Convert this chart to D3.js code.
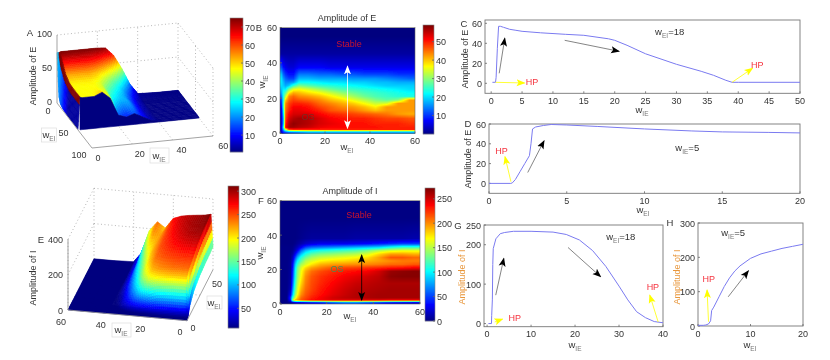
<!DOCTYPE html>
<html>
<head>
<meta charset="utf-8">
<script src="https://cdn.jsdelivr.net/npm/d3@7"></script>
<style>
html, body { margin: 0; background: #fff; }
text { font-family: "Liberation Sans", Arial, sans-serif; font-size: 9px; fill: #333; }
.tick-line { stroke: #666; stroke-width: 0.8; fill: none; }
.grid3d { stroke: #999; stroke-width: 0.7; stroke-dasharray: 1 2.5; fill: none; }
.axis3d { stroke: #999; stroke-width: 0.9; fill: none; }
.lab-box { fill: #fff; stroke: #ddd; stroke-width: 0.7; }
</style>
</head>
<body>
<div id="chart"></div>
<script>
// surface A: amplitude of E, rows are wEI, columns are wIE
var surfIE = [0, 1, 2, 4, 8, 12, 16, 20, 24, 28, 32, 36, 40, 50, 60];
var surfAEI = [0, 3, 6, 10, 15, 20, 30, 40, 50, 60];
var surfAZ = [
  [74, 74, 75, 75, 75, 75, 75, 75, 74, 62, 42, 18, 2, 1, 1],
  [40, 74, 74, 74, 74, 74, 74, 73, 68, 55, 35, 14, 2, 1, 1],
  [12, 72, 72, 72, 72, 72, 71, 68, 60, 47, 29, 12, 2, 1, 1],
  [5, 67, 67, 67, 67, 67, 65, 60, 50, 38, 23, 10, 2, 1, 1],
  [3, 60, 60, 60, 60, 60, 57, 50, 41, 31, 19, 8, 1, 1, 1],
  [2, 54, 54, 54, 54, 54, 51, 44, 35, 26, 16, 6, 1, 1, 1],
  [1, 49, 48, 48, 48, 48, 45, 36, 28, 22, 13, 5, 1, 1, 1],
  [1, 48, 47, 47, 47, 47, 44, 30, 24, 22, 12, 4, 1, 1, 1],
  [1, 48, 47, 47, 47, 48, 44, 24, 18, 20, 11, 4, 1, 1, 1],
  [1, 48, 47, 47, 47, 52, 42, 16, 12, 16, 10, 4, 1, 1, 1]
];

// surface E: amplitude of I
var surfEEI = [0, 1, 2, 3, 4, 6, 10, 15, 20, 30, 40, 50, 60];
var surfEZ = [
  [0, 1, 1, 1, 1, 1, 1, 1, 1, 1, 1, 1, 1, 1, 1],
  [5, 10, 10, 10, 10, 10, 10, 8, 5, 3, 2, 1, 1, 1, 1],
  [10, 40, 40, 40, 40, 40, 38, 30, 20, 10, 5, 2, 1, 1, 1],
  [20, 100, 100, 100, 100, 98, 95, 80, 50, 25, 10, 3, 1, 1, 1],
  [30, 170, 170, 170, 170, 165, 160, 140, 90, 45, 18, 5, 1, 1, 1],
  [50, 215, 215, 215, 215, 212, 205, 190, 130, 70, 30, 8, 1, 1, 1],
  [70, 240, 240, 240, 240, 235, 230, 215, 170, 100, 50, 14, 2, 1, 1],
  [90, 250, 250, 250, 250, 245, 240, 230, 190, 125, 65, 20, 2, 1, 1],
  [100, 260, 260, 260, 258, 255, 250, 240, 205, 140, 80, 28, 2, 1, 1],
  [115, 285, 285, 285, 280, 272, 262, 250, 220, 170, 105, 40, 2, 1, 1],
  [120, 300, 300, 300, 295, 285, 272, 255, 225, 200, 130, 45, 3, 1, 1],
  [125, 306, 306, 304, 300, 292, 280, 260, 225, 230, 165, 50, 3, 1, 1],
  [130, 313, 310, 305, 300, 295, 287, 270, 212, 243, 190, 60, 5, 1, 1]
];

// heat map B: cell edges and values, first row at wIE = 0
var heatBX = [0, 1, 2, 3, 5, 7, 10, 15, 20, 25, 30, 35, 40, 45, 50, 55, 60];
var heatBY = [0, 1.5, 3, 4, 7, 10, 12, 14, 16, 18, 20, 22, 24, 26, 28, 30, 32, 35, 40, 50, 60];
var heatBZ = [
  [5, 10, 12, 14, 15, 16, 18, 18, 18, 18, 18, 18, 18, 18, 18, 18],
  [5, 18, 35, 48, 50, 50, 50, 50, 50, 50, 50, 50, 50, 50, 50, 50],
  [5, 22, 52, 57, 57, 56, 55, 53, 52, 52, 51, 51, 51, 50, 50, 50],
  [4, 18, 50, 56, 58, 57, 56, 54, 53, 52, 51, 51, 50, 50, 50, 49],
  [4, 18, 48, 54, 56, 57, 56, 54, 52, 51, 50, 50, 49, 48, 48, 47],
  [5, 20, 47, 52, 54, 54, 54, 52, 50, 49, 48, 47, 46, 45, 43, 42],
  [5, 22, 46, 50, 53, 53, 52, 50, 47, 46, 45, 43, 41, 43, 43, 43],
  [6, 25, 45, 49, 52, 52, 51, 48, 46, 44, 43, 41, 38, 43, 43, 43],
  [8, 25, 44, 48, 50, 50, 49, 46, 44, 42, 40, 37, 34, 35, 43, 43],
  [10, 24, 40, 46, 48, 47, 46, 44, 41, 39, 36, 33, 30, 28, 30, 43],
  [14, 24, 34, 44, 46, 44, 43, 41, 38, 35, 32, 29, 27, 26, 25, 24],
  [17, 24, 28, 38, 42, 41, 39, 37, 34, 31, 29, 27, 26, 25, 24, 23],
  [19, 22, 22, 30, 36, 37, 35, 32, 29, 27, 26, 25, 24, 23, 22, 21],
  [21, 20, 18, 20, 26, 30, 28, 26, 25, 24, 23, 22, 21, 20, 20, 20],
  [22, 19, 16, 16, 17, 23, 23, 22, 21, 21, 20, 20, 19, 19, 18, 18],
  [22, 17, 14, 12, 12, 19, 19, 18, 18, 18, 17, 17, 17, 16, 15, 14],
  [20, 14, 11, 9, 9, 15, 15, 14, 14, 13, 13, 12, 12, 12, 11, 11],
  [13, 9, 7, 6, 6, 8, 8, 8, 7, 7, 7, 7, 7, 7, 7, 7],
  [3, 3, 3, 3, 3, 3, 3, 3, 3, 3, 3, 3, 3, 3, 3, 3],
  [1, 1, 1, 1, 1, 1, 1, 1, 1, 1, 1, 1, 1, 1, 1, 1]
];

// heat map F
var heatFX = [0, 2, 4, 5, 6, 7, 8, 10, 12, 15, 20, 25, 30, 35, 40, 45, 50, 55, 60];
var heatFY = [0, 1.5, 3, 4, 7, 10, 14, 18, 20, 22, 24, 26, 28, 30, 32, 34, 36, 40, 60];
var heatFZ = [
  [2, 2, 5, 10, 15, 20, 20, 25, 30, 35, 50, 60, 60, 50, 40, 30, 25, 20],
  [2, 2, 40, 150, 190, 200, 215, 225, 235, 240, 245, 245, 245, 245, 245, 240, 240, 240],
  [2, 2, 50, 120, 160, 185, 210, 220, 230, 240, 250, 255, 258, 260, 262, 262, 262, 262],
  [2, 2, 30, 90, 140, 170, 200, 215, 225, 235, 245, 252, 258, 260, 262, 262, 262, 262],
  [2, 2, 15, 75, 125, 160, 190, 210, 220, 232, 242, 250, 256, 258, 260, 262, 262, 262],
  [2, 2, 10, 60, 115, 150, 180, 205, 218, 228, 238, 246, 252, 255, 258, 260, 260, 260],
  [2, 2, 8, 50, 105, 140, 170, 200, 215, 225, 232, 240, 245, 250, 255, 268, 270, 270],
  [2, 2, 7, 45, 100, 135, 165, 192, 208, 218, 226, 232, 236, 240, 250, 265, 268, 270],
  [2, 2, 6, 40, 95, 130, 160, 180, 195, 205, 215, 220, 222, 225, 228, 232, 235, 240],
  [2, 2, 6, 35, 85, 115, 145, 160, 175, 190, 195, 198, 200, 202, 205, 210, 210, 215],
  [2, 2, 5, 25, 70, 100, 125, 150, 160, 172, 178, 180, 185, 190, 195, 200, 205, 205],
  [2, 2, 4, 18, 50, 80, 110, 130, 145, 155, 160, 165, 170, 178, 195, 215, 215, 210],
  [2, 2, 3, 10, 30, 55, 85, 110, 125, 135, 140, 145, 150, 160, 180, 195, 195, 190],
  [2, 2, 2, 5, 15, 30, 60, 85, 100, 110, 115, 120, 125, 135, 150, 160, 165, 165],
  [2, 2, 2, 3, 8, 15, 30, 50, 60, 65, 70, 75, 80, 85, 90, 105, 115, 115],
  [1, 1, 1, 1, 3, 7, 12, 20, 25, 30, 30, 30, 32, 35, 40, 45, 50, 50],
  [1, 1, 1, 1, 1, 2, 4, 6, 8, 8, 8, 8, 10, 10, 10, 10, 10, 12],
  [1, 1, 1, 1, 1, 1, 1, 1, 1, 1, 1, 1, 1, 1, 1, 1, 1, 1]
];

// line panels
var lineCX = [0.2, 0.7, 0.8, 1.0, 1.2, 1.5, 2, 3, 4, 5, 8, 12, 15, 19, 20, 22, 25, 30, 34, 36, 38, 39, 40, 50];
var lineCY = [1, 1, 6, 35, 57, 57, 56, 54, 53, 52, 50.5, 49, 48, 44.5, 43, 38, 29.5, 19, 12, 8, 3, 1, 1, 1];
var lineDX = [0, 1.4, 1.5, 1.7, 2, 2.3, 2.6, 2.7, 2.8, 3, 3.5, 4, 5, 7, 10, 13, 15, 18, 20];
var lineDY = [0, 0, 0.5, 4, 12, 20, 28, 40, 55, 57, 58.5, 59.5, 59, 57.5, 55, 53, 52, 51.5, 51];
var lineGX = [0.3, 1, 1.05, 1.2, 1.3, 1.4, 2, 3, 4, 6, 10, 15, 18, 21, 24, 27, 30, 32, 34, 36, 38, 40];
var lineGY = [0, 0, 20, 60, 150, 190, 215, 228, 231, 234, 234, 232, 226, 212, 185, 145, 95, 60, 30, 15, 5, 2];
var lineHX = [0, 1, 1.5, 2, 2.4, 2.6, 3, 4, 5, 6, 7, 8, 10, 12, 14, 16, 18, 20];
var lineHY = [2, 2, 3, 6, 15, 45, 55, 85, 115, 140, 160, 175, 197, 210, 218, 226, 232, 238];

// annotations, [x1, y1, x2, y2] in data units
var arrowsC = [[1.3, 10, 2.2, 45, "black"], [11.9, 43, 20.7, 32, "black"], [0.7, 1, 5.4, 0.3, "yellow"], [39, 1, 42.3, 15, "yellow"]];
var arrowsD = [[1.41, 1.7, 1.03, 27, "yellow"], [2.49, 11, 3.54, 43, "black"]];
var arrowsG = [[1.97, 72, 3.8, 165, "black"], [18.4, 193, 25.8, 119, "black"], [1.74, 4, 3.5, 11, "yellow"], [38.9, 4, 37, 72, "yellow"]];
var arrowsH = [[2, 12.6, 1.73, 104.5, "yellow"], [5.75, 85, 9.6, 160.7, "black"]];
var hpC = [[6.6, 2.3], [43.1, 19]];
var hpD = [[0.81, 33.7]];
var hpG = [[6.3, 17], [37.7, 95]];
var hpH = [[2.04, 141]];

var jetStops = [0, 0.125, 0.375, 0.625, 0.875, 1];
var jetColors = ["#00007f", "#0000ff", "#00ffff", "#ffff00", "#ff0000", "#7f0000"];
var jet = d3.scaleLinear().domain(jetStops).range(jetColors).clamp(true);

var svg = d3.select("#chart").append("svg")
    .attr("width", 830)
    .attr("height", 360);

var defs = svg.append("defs");
defs.append("filter").attr("id", "soft").attr("x", "-2%").attr("y", "-2%").attr("width", "104%").attr("height", "104%")
    .append("feGaussianBlur").attr("stdDeviation", 0.3);
defs.append("filter").attr("id", "surfblur").attr("x", "-5%").attr("y", "-5%").attr("width", "110%").attr("height", "110%")
    .append("feGaussianBlur").attr("stdDeviation", 0.5);

["black", "yellow", "white"].forEach(c => {
    defs.append("marker")
        .attr("id", "head-" + c)
        .attr("viewBox", "0 -4 9 8")
        .attr("refX", 8)
        .attr("markerUnits", "userSpaceOnUse")
        .attr("markerWidth", 9)
        .attr("markerHeight", 8)
        .attr("orient", "auto-start-reverse")
        .append("path")
        .attr("d", "M0,-3.5L9,0L0,3.5L2,0Z")
        .attr("fill", c);
});

var root = svg.append("g").attr("filter", "url(#soft)");

function subLabel(g, x, y, main, sub, rotate, color, after) {
    var t = g.append("text")
        .attr("x", x)
        .attr("y", y)
        .attr("text-anchor", "middle")
        .style("font-size", "9.5px");
    if (rotate) t.attr("transform", "rotate(-90," + x + "," + y + ")");
    if (color) t.style("fill", color);
    t.append("tspan").text(main);
    t.append("tspan").attr("dy", 3).style("font-size", "6.5px").style("fill", "#777").text(sub);
    if (after) t.append("tspan").attr("dy", -3).text(after);
    return t;
}

function plainText(g, x, y, s, size, color, anchor) {
    return g.append("text")
        .attr("x", x)
        .attr("y", y)
        .attr("text-anchor", anchor || "middle")
        .style("font-size", size + "px")
        .style("fill", color || "#333")
        .text(s);
}

function colorbar(x, y, w, h, domain, ticks) {
    var scale = d3.scaleLinear().domain(domain).range([y + h, y]);
    var steps = d3.range(0, h);
    var c = d3.scaleSequential(t => jet(t)).domain([y + h, y]);
    root.append("g").selectAll("rect").data(steps).enter().append("rect")
        .attr("x", x)
        .attr("y", d => y + d)
        .attr("width", w)
        .attr("height", 1.2)
        .attr("fill", d => c(y + d));
    root.append("rect").attr("x", x).attr("y", y).attr("width", w).attr("height", h)
        .attr("fill", "none").attr("stroke", "#888").attr("stroke-width", 0.6);
    ticks.forEach(t => {
        root.append("line").attr("class", "tick-line").attr("x1", x + w - 2).attr("x2", x + w)
            .attr("y1", scale(t)).attr("y2", scale(t));
        plainText(root, x + w + 2, scale(t) + 3.5, t, 9, "#333", "start");
    });
}

// value read at a point, shading between cell centres like shading interp
function shade(xs, ys, zs) {
    var cx = d3.pairs(xs, (a, b) => (a + b) / 2);
    var cy = d3.pairs(ys, (a, b) => (a + b) / 2);
    function locate(list, v) {
        var k = Math.max(1, Math.min(list.length - 1, d3.bisectLeft(list, v)));
        var t = (v - list[k - 1]) / (list[k] - list[k - 1]);
        return [k - 1, Math.max(0, Math.min(1, t))];
    }
    return (x, y) => {
        var a = locate(cx, x), b = locate(cy, y);
        var lo = zs[b[0]][a[0]] * (1 - a[1]) + zs[b[0]][a[0] + 1] * a[1];
        var hi = zs[b[0] + 1][a[0]] * (1 - a[1]) + zs[b[0] + 1][a[0] + 1] * a[1];
        return lo * (1 - b[1]) + hi * b[1];
    };
}

function heatmap(box, xs, ys, zs, domain, ticks) {
    var x = d3.scaleLinear().domain([0, 60]).range([box.x, box.x + box.w]);
    var y = d3.scaleLinear().domain([0, 60]).range([box.y + box.h, box.y]);
    var color = d3.scaleLinear().domain(domain).range([0, 1]);
    var value = shade(xs, ys, zs);
    var cells = [];
    for (var px = Math.round(box.x); px < box.x + box.w; px++) {
        for (var py = Math.round(box.y); py < box.y + box.h; py++) {
            cells.push({px: px, py: py, v: value(x.invert(px + 0.5), y.invert(py + 0.5))});
        }
    }
    root.append("g").attr("shape-rendering", "crispEdges").selectAll("rect").data(cells).enter().append("rect")
        .attr("x", d => d.px)
        .attr("y", d => d.py)
        .attr("width", 1)
        .attr("height", 1)
        .attr("fill", d => jet(color(d.v)));
    root.append("rect").attr("x", box.x).attr("y", box.y).attr("width", box.w).attr("height", box.h)
        .attr("fill", "none").attr("stroke", "#666").attr("stroke-width", 0.6);
    ticks.forEach(t => {
        plainText(root, x(t), box.y + box.h + 10.5, t, 9);
        plainText(root, box.x - 3, y(t) + 3.5, t, 9, "#333", "end");
        root.append("line").attr("class", "tick-line").attr("x1", x(t)).attr("x2", x(t))
            .attr("y1", box.y + box.h).attr("y2", box.y + box.h - 2);
        root.append("line").attr("class", "tick-line").attr("x1", box.x).attr("x2", box.x + 2)
            .attr("y1", y(t)).attr("y2", y(t));
    });
    return {x: x, y: y};
}

// bilinear split of every grid quad, flat quads stay whole
function surface(project, xs, ys, zs, domain, opts) {
    var color = d3.scaleLinear().domain(domain).range([0, 1]);
    var polys = [];
    function zAt(i, j, u, v) {
        return (zs[j][i] * (1 - u) + zs[j][i + 1] * u) * (1 - v) + (zs[j + 1][i] * (1 - u) + zs[j + 1][i + 1] * u) * v;
    }
    function subQuad(i, j, u0, v0, u1, v1) {
        var pts = [[u0, v0], [u1, v0], [u1, v1], [u0, v1]].map(p => {
            var wx = xs[i] + (xs[i + 1] - xs[i]) * p[0];
            var wy = ys[j] + (ys[j + 1] - ys[j]) * p[1];
            return project(wx, wy, zAt(i, j, p[0], p[1]));
        });
        var mu = (u0 + u1) / 2, mv = (v0 + v1) / 2;
        var mx = xs[i] + (xs[i + 1] - xs[i]) * mu;
        var my = ys[j] + (ys[j + 1] - ys[j]) * mv;
        var t = color(zAt(i, j, mu, mv));
        if (opts.wallColor && i == 0) t = opts.wallColor(mu, my);
        return {pts: pts, depth: project(mx, my, 0)[1], t: t};
    }
    for (var j = 0; j < ys.length - 1; j++) {
        for (var i = 0; i < xs.length - 1; i++) {
            var corners = [zs[j][i], zs[j][i + 1], zs[j + 1][i], zs[j + 1][i + 1]];
            var n = d3.max(corners) < domain[0] ? 1 : 4;
            for (var a = 0; a < n; a++) {
                for (var b = 0; b < n; b++) {
                    polys.push(subQuad(i, j, a / n, b / n, (a + 1) / n, (b + 1) / n));
                }
            }
        }
    }
    polys.sort((p, q) => p.depth - q.depth);
    var g = root.append("g").attr("filter", "url(#surfblur)");
    (opts.base || []).forEach(s => {
        // backing under the thin rows so slivers do not show white through
        g.append("polygon")
            .attr("points", [project(s[0], s[2], 0), project(s[1], s[2], 0), project(s[1], s[3], 0), project(s[0], s[3], 0)]
                .map(p => p.join(",")).join(" "))
            .attr("fill", jet(0));
    });
    g.selectAll("polygon.q").data(polys).enter().append("polygon")
        .attr("class", "q")
        .attr("points", d => d.pts.map(p => p[0].toFixed(1) + "," + p[1].toFixed(1)).join(" "))
        .attr("fill", d => jet(d.t))
        .attr("stroke", d => jet(d.t))
        .attr("stroke-width", 0.6);
    if (opts.curtain) {
        // dark front skirt under the last row
        var last = ys[ys.length - 1], top = zs[zs.length - 1];
        var edge = top.map((z, i) => project(xs[i], last, z)).slice(1);
        var foot = xs.slice(1).map(v => project(v, last, 0)).reverse();
        g.append("polygon")
            .attr("points", edge.concat(foot).map(p => p.join(",")).join(" "))
            .attr("fill", jet(0)).attr("stroke", jet(0)).attr("stroke-width", 0.6);
    }
}

function projector(o, ex, ey, ez, xMax, yMax, zMax) {
    var xt = d3.scaleLinear().domain([0, xMax]).range([0, 1]);
    var yt = d3.scaleLinear().domain([0, yMax]).range([0, 1]);
    var zt = d3.scaleLinear().domain([0, zMax]).range([0, 1]);
    return (x, y, z) => [
        o[0] + xt(x) * ex[0] + yt(y) * ey[0],
        o[1] + xt(x) * ex[1] + yt(y) * ey[1] + zt(z) * ez
    ];
}

function seg(g, a, b, cls) {
    g.append("line").attr("class", cls)
        .attr("x1", a[0]).attr("y1", a[1]).attr("x2", b[0]).attr("y2", b[1]);
}

function linePanel(box, xDomain, yDomain, xTicks, yTicks, xs, ys) {
    var x = d3.scaleLinear().domain(xDomain).range([box.x, box.x + box.w]);
    var y = d3.scaleLinear().domain(yDomain).range([box.y + box.h, box.y]);
    root.append("rect").attr("x", box.x).attr("y", box.y).attr("width", box.w).attr("height", box.h)
        .attr("fill", "none").attr("stroke", "#777").attr("stroke-width", 0.9);
    xTicks.forEach(t => {
        root.append("line").attr("class", "tick-line").attr("x1", x(t)).attr("x2", x(t))
            .attr("y1", box.y + box.h).attr("y2", box.y + box.h - 2);
        plainText(root, x(t), box.y + box.h + 10.5, t, 9);
    });
    yTicks.forEach(t => {
        root.append("line").attr("class", "tick-line").attr("x1", box.x).attr("x2", box.x + 2)
            .attr("y1", y(t)).attr("y2", y(t));
        plainText(root, box.x - 3, y(t) + 3.5, t, 9, "#333", "end");
    });
    var line = d3.line().x(d => x(d[0])).y(d => y(d[1]));
    root.append("path").attr("d", line(d3.zip(xs, ys)))
        .attr("fill", "none").attr("stroke", "#7a7af0").attr("stroke-width", 1);
    return {x: x, y: y};
}

function arrows(p, list) {
    list.forEach(a => {
        root.append("line")
            .attr("x1", p.x(a[0])).attr("y1", p.y(a[1]))
            .attr("x2", p.x(a[2])).attr("y2", p.y(a[3]))
            .attr("stroke", a[4] == "black" ? "#666" : "#ffff00")
            .attr("stroke-width", 0.8)
            .attr("marker-end", "url(#head-" + (a[4] == "black" ? "black" : "yellow") + ")");
    });
}

function hpLabels(p, list) {
    list.forEach(h => plainText(root, p.x(h[0]), p.y(h[1]) + 4, "HP", 9, "#f5333f"));
}

// ---- panel A ----
var pA = projector([57, 103], [121, -12], [35, 45], -68, 60, 100, 100);
var gA = root.append("g");
[50, 100].forEach(z => {
    seg(gA, pA(0, 0, z), pA(60, 0, z), "grid3d");
    seg(gA, pA(60, 0, z), pA(60, 100, z), "grid3d");
});
[20, 40, 60].forEach(v => seg(gA, pA(v, 0, 0), pA(v, 0, 100), "grid3d"));
[50, 100].forEach(v => seg(gA, pA(60, v, 0), pA(60, v, 100), "grid3d"));
[20, 40].forEach(v => seg(gA, pA(v, 0, 0), pA(v, 100, 0), "grid3d"));
seg(gA, pA(0, 50, 0), pA(60, 50, 0), "grid3d");
seg(gA, pA(60, 0, 0), pA(60, 100, 0), "grid3d");
// left wall of surface A: maroon lip over blue, lighter at the far end
surface(pA, surfIE, surfAEI, surfAZ, [0.6, 75], {
    curtain: true,
    wallColor: (u, wei) => u > 0.7 ? 1 : Math.max(0.03, 0.32 * (1 - wei / 35))
});
seg(root, pA(0, 0, 0), pA(0, 0, 100), "axis3d");
seg(root, pA(0, 0, 0), pA(0, 100, 0), "axis3d");
seg(root, pA(0, 100, 0), pA(60, 100, 0), "axis3d");
[0, 50, 100].forEach(z => {
    var q = pA(0, 0, z);
    plainText(root, q[0] - 5, q[1] + 1.5, z, 9, "#333", "end");
});
[0, 50, 100].forEach(v => {
    var q = pA(0, v, 0);
    plainText(root, q[0] - 9 - v * 0.04, q[1] + 10.5 - v * 0.01, v, 9);
});
[0, 20, 40, 60].forEach(v => {
    var q = pA(v, 100, 0);
    plainText(root, q[0] + 6 + v * 0.07, q[1] + 12.5, v, 9);
});
root.append("rect").attr("class", "lab-box").attr("x", 41.5).attr("y", 128).attr("width", 15).attr("height", 14);
subLabel(root, 49, 138, "w", "EI");
root.append("rect").attr("class", "lab-box").attr("x", 150).attr("y", 148).attr("width", 19).attr("height", 15);
subLabel(root, 159, 158.5, "w", "IE");
plainText(root, 30, 36, "A", 9.5);
plainText(root, 36, 76, "Amplitude of E", 9).attr("transform", "rotate(-90,36,76)");
colorbar(230, 18, 13, 134, [0.6, 75], [10, 20, 30, 40, 50, 60, 70]);

// ---- panel E ----
var pE = projector([187, 320.7], [-119, -10.7], [26, -51], -70.7, 60, 60, 400);
var gE = root.append("g");
[200, 400].forEach(z => {
    seg(gE, pE(60, 60, z), pE(0, 60, z), "grid3d");
    seg(gE, pE(60, 0, z), pE(60, 60, z), "grid3d");
});
[0, 20, 40, 60].forEach(v => seg(gE, pE(v, 60, 0), pE(v, 60, 400), "grid3d"));
[20, 40].forEach(v => seg(gE, pE(v, 0, 0), pE(v, 60, 0), "grid3d"));
seg(gE, pE(60, 0, 0), pE(60, 0, 400), "grid3d");
seg(gE, pE(0, 30, 0), pE(60, 30, 0), "grid3d");
surface(pE, surfIE, surfEEI, surfEZ, [8, 311], {base: [[2, 60, 0, 10], [40, 60, 0, 60]]});
seg(root, pE(60, 0, 0), pE(60, 0, 400), "axis3d");
seg(root, pE(60, 0, 0), pE(0, 0, 0), "axis3d");
seg(root, pE(0, 0, 0), pE(0, 60, 0), "axis3d");
[0, 200, 400].forEach(z => {
    var q = pE(60, 0, z);
    plainText(root, q[0] - 5, q[1] + 3.5, z, 9, "#333", "end");
});
[0, 20, 40, 60].forEach(v => {
    var q = pE(v, 0, 0);
    plainText(root, q[0] - 7, q[1] + 14.5, v, 9);
});
[0, 50].forEach(v => {
    var q = pE(0, v * 66.5 / 60, 0);
    plainText(root, q[0] + 6, q[1] + (v ? 13 : 10.5), v, 9);
});
root.append("rect").attr("class", "lab-box").attr("x", 207).attr("y", 296).attr("width", 15).attr("height", 13);
subLabel(root, 214, 306, "w", "EI");
root.append("rect").attr("class", "lab-box").attr("x", 112).attr("y", 323).attr("width", 19).attr("height", 14);
subLabel(root, 121, 333, "w", "IE");
plainText(root, 41, 242.5, "E", 9.5);
plainText(root, 36, 278, "Amplitude of I", 9).attr("transform", "rotate(-90,36,278)");
colorbar(228, 186, 11, 142, [8, 311], [50, 100, 150, 200, 250, 300]);

// ---- panel B ----
var heatB = heatmap({x: 280, y: 27.5, w: 135, h: 106}, heatBX, heatBY, heatBZ, [1, 59], [0, 20, 40, 60]);
colorbar(423, 25, 11, 109, [0, 59], [10, 20, 30, 40, 50]);
plainText(root, 347, 21, "Amplitude of E", 9);
plainText(root, 349, 46.5, "Stable", 9, "#c8102e");
plainText(root, 308, 119.5, "OS", 9, "#7a2a20");
plainText(root, 259, 31, "B", 9.5);
subLabel(root, 265, 82, "w", "IE", true);
subLabel(root, 347, 150, "w", "EI");
root.append("line")
    .attr("x1", heatB.x(30)).attr("x2", heatB.x(30)).attr("y1", heatB.y(3)).attr("y2", heatB.y(38))
    .attr("stroke", "white").attr("stroke-width", 0.8)
    .attr("marker-start", "url(#head-white)").attr("marker-end", "url(#head-white)");

// ---- panel F ----
var heatF = heatmap({x: 280, y: 200.7, w: 140, h: 103.3}, heatFX, heatFY, heatFZ, [0, 272], [0, 20, 40, 60]);
colorbar(425, 188, 10, 133, [0, 272], [0, 50, 100, 150, 200, 250]);
plainText(root, 350, 194, "Amplitude of I", 9);
plainText(root, 359, 218, "Stable", 9, "#c8102e");
plainText(root, 337, 271.5, "OS", 9, "#4a8a50");
plainText(root, 261, 204, "F", 9.5);
subLabel(root, 263, 253, "w", "IE", true);
subLabel(root, 350, 319, "w", "EI");
root.append("line")
    .attr("x1", heatF.x(35)).attr("x2", heatF.x(35)).attr("y1", heatF.y(2.3)).attr("y2", heatF.y(28.4))
    .attr("stroke", "black").attr("stroke-width", 0.8)
    .attr("marker-start", "url(#head-black)").attr("marker-end", "url(#head-black)");

// ---- panel C ----
var panelC = linePanel({x: 485, y: 20, w: 315, h: 73.3}, [-1, 50], [-10, 63.3], d3.range(0, 51, 5), [0, 20, 40, 60], lineCX, lineCY);
arrows(panelC, arrowsC);
hpLabels(panelC, hpC);
subLabel(root, panelC.x(28.9), panelC.y(50.7) + 2, "w", "EI", false, null, "=18");
plainText(root, 464, 27, "C", 9.5);
plainText(root, 468, 59, "Amplitude of E", 9).attr("transform", "rotate(-90,468,59)");
subLabel(root, 642, 113, "w", "IE");

// ---- panel D ----
var panelD = linePanel({x: 489, y: 124, w: 311, h: 69.3}, [0, 20], [-10, 60], [0, 5, 10, 15, 20], [0, 20, 40, 60], lineDX, lineDY);
arrows(panelD, arrowsD);
hpLabels(panelD, hpD);
subLabel(root, panelD.x(12.75), panelD.y(35.4) + 3, "w", "IE", false, null, "=5");
plainText(root, 468, 127, "D", 9.5);
plainText(root, 471, 159, "Amplitude of E", 9).attr("transform", "rotate(-90,471,159)");
subLabel(root, 643, 213, "w", "EI");

// ---- panel G ----
var panelG = linePanel({x: 484, y: 225, w: 179, h: 101.7}, [-0.7, 40], [-8, 250], [0, 10, 20, 30, 40], [0, 100, 200, 250], lineGX, lineGY);
arrows(panelG, arrowsG);
hpLabels(panelG, hpG);
subLabel(root, panelG.x(30.4), panelG.y(220) + 3, "w", "EI", false, null, "=18");
plainText(root, 458, 229, "G", 9.5);
plainText(root, 465, 277, "Amplitude of I", 9, "#e8963a").attr("transform", "rotate(-90,465,277)");
subLabel(root, 575, 348, "w", "IE");

// ---- panel H ----
var panelH = linePanel({x: 698, y: 223, w: 105, h: 103}, [0, 20], [0, 300], [0, 10, 20], [0, 100, 200, 300], lineHX, lineHY);
arrows(panelH, arrowsH);
hpLabels(panelH, hpH);
subLabel(root, panelH.x(6.7), panelH.y(271) + 3, "w", "IE", false, null, "=5");
plainText(root, 670, 226, "H", 9.5);
plainText(root, 680, 277, "Amplitude of I", 9, "#e8963a").attr("transform", "rotate(-90,680,277)");
subLabel(root, 750, 348, "w", "EI");
</script>
</body>
</html>
